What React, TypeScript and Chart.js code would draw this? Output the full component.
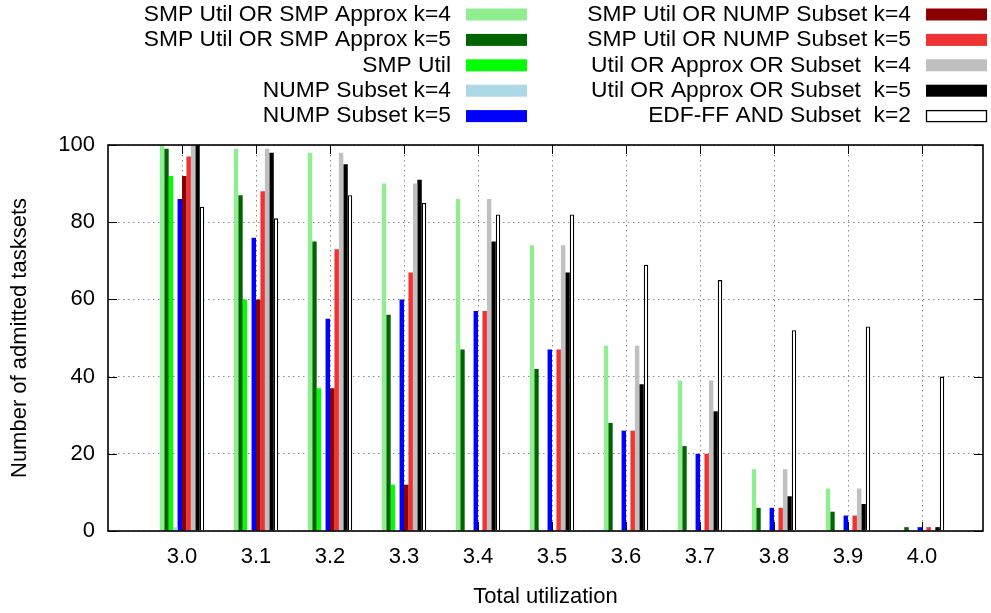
import { useEffect, useRef } from "react";
import { Chart, registerables } from "chart.js";

Chart.register(...registerables);

// ---- data ----
const categories = [3.0, 3.1, 3.2, 3.3, 3.4, 3.5, 3.6, 3.7, 3.8, 3.9, 4.0];

const seriesLabels = [
  "SMP Util OR SMP Approx k=4",
  "SMP Util OR SMP Approx k=5",
  "SMP Util",
  "NUMP Subset k=4",
  "NUMP Subset k=5",
  "SMP Util OR NUMP Subset k=4",
  "SMP Util OR NUMP Subset k=5",
  "Util OR Approx OR Subset  k=4",
  "Util OR Approx OR Subset  k=5",
  "EDF-FF AND Subset  k=2",
];

const smpApproxK4 = [100, 99, 98, 90, 86, 74, 48, 39, 16, 11, 0];
const smpApproxK5 = [99, 87, 75, 56, 47, 42, 28, 22, 6, 5, 1];
const smpUtil = [92, 60, 37, 12, 0, 0, 0, 0, 0, 0, 0];
const numpK4 = [1, 0, 0, 0, 0, 0, 0, 0, 0, 0, 0];
const numpK5 = [86, 76, 55, 60, 57, 47, 26, 20, 6, 4, 1];
const smpNumpK4 = [92, 60, 37, 12, 0, 0, 0, 0, 0, 0, 0];
const smpNumpK5 = [97, 88, 73, 67, 57, 47, 26, 20, 6, 4, 1];
const allK4 = [100, 99, 98, 90, 86, 74, 48, 39, 16, 11, 0];
const allK5 = [100, 98, 95, 91, 75, 67, 38, 31, 9, 7, 1];
const edfK2 = [84, 81, 87, 85, 82, 82, 69, 65, 52, 53, 40];

const yTicks = [0, 20, 40, 60, 80, 100];

const seriesValues = [
  smpApproxK4,
  smpApproxK5,
  smpUtil,
  numpK4,
  numpK5,
  smpNumpK4,
  smpNumpK5,
  allK4,
  allK5,
  edfK2,
];

const seriesColors = [
  "#90ee90",
  "#006400",
  "#00ff00",
  "#add8e6",
  "#0000ff",
  "#8b0000",
  "#f03232",
  "#c0c0c0",
  "#000000",
  "#ffffff",
];

const FONT = '"Liberation Sans", Arial, sans-serif';

const framePlugin = {
  id: "gpFrame",
  beforeDatasetsDraw(chart: any) {
    const { ctx, chartArea, scales } = chart;
    const { left, right, top, bottom } = chartArea;
    const x = scales.x;
    const y = scales.y;
    ctx.save();
    ctx.strokeStyle = "#000";
    ctx.lineWidth = 1;
    ctx.beginPath();
    for (const t of y.ticks) {
      const py = Math.round(y.getPixelForValue(t.value)) + 0.5;
      ctx.moveTo(left, py);
      ctx.lineTo(left + 9, py);
      ctx.moveTo(right, py);
      ctx.lineTo(right - 9, py);
    }
    for (const t of x.ticks) {
      const px = Math.round(x.getPixelForValue(t.value)) + 0.5;
      ctx.moveTo(px, bottom);
      ctx.lineTo(px, bottom - 9);
      ctx.moveTo(px, top);
      ctx.lineTo(px, top + 9);
    }
    ctx.stroke();
    ctx.restore();
  },
  afterDatasetsDraw(chart: any) {
    const { ctx, chartArea } = chart;
    const { left, right, top, bottom } = chartArea;
    ctx.save();
    ctx.strokeStyle = "#000";
    ctx.lineWidth = 1.6;
    ctx.strokeRect(left, top, right - left, bottom - top);
    ctx.restore();
  },
};

const legendPlugin = {
  id: "gpLegend",
  afterDraw(chart: any) {
    const { ctx } = chart;
    const ds = chart.data.datasets;
    ctx.save();
    ctx.font = `22.8px ${FONT}`;
    ctx.textAlign = "right";
    ctx.textBaseline = "middle";
    ds.forEach((d: any, i: number) => {
      const col = Math.floor(i / 5);
      const row = i % 5;
      const textRight = col === 0 ? 451 : 911;
      const swLeft = col === 0 ? 466 : 926;
      const cy = 14.5 + row * 25.4;
      ctx.fillStyle = "#000";
      ctx.fillText(d.label, textRight, cy);
      ctx.fillStyle = d.backgroundColor;
      ctx.fillRect(swLeft, cy - 6, 61, 12);
      if (d.borderWidth > 0) {
        ctx.strokeStyle = d.borderColor;
        ctx.lineWidth = 1.3;
        ctx.strokeRect(swLeft + 0.5, cy - 5.5, 60, 11);
      }
    });
    ctx.restore();
  },
};

export default function App() {
  const ref = useRef<HTMLCanvasElement | null>(null);

  useEffect(() => {
    document.body.style.margin = "0";
    const canvas = ref.current;
    if (!canvas) return;

    const datasets = seriesLabels.map((label, si) => {
      const isWhite = si === seriesLabels.length - 1;
      return {
        label,
        data: categories.map((c, i) => ({ x: c, y: seriesValues[si][i] })),
        backgroundColor: seriesColors[si],
        borderColor: isWhite ? "#000000" : seriesColors[si],
        borderWidth: isWhite ? 1.3 : 0,
        categoryPercentage: 0.6,
        barPercentage: 1.0,
      };
    });

    const chart = new Chart(canvas, {
      type: "bar",
      data: { datasets },
      plugins: [framePlugin, legendPlugin],
      options: {
        animation: false,
        responsive: false,
        devicePixelRatio: 1,
        layout: { padding: { top: 145, right: 8, bottom: 0, left: 0 } },
        plugins: {
          legend: { display: false },
          tooltip: { enabled: false },
        },
        scales: {
          x: {
            type: "linear",
            min: 2.9,
            max: 4.0824,
            offset: false,
            afterBuildTicks: (scale: any) => {
              scale.ticks = categories.map((v) => ({ value: v }));
            },
            afterFit: (scale: any) => {
              scale.height = 82;
            },
            grid: {
              offset: false,
              drawTicks: false,
              color: "#8a8a8a",
              lineWidth: 1,
            },
            border: { display: false, dash: [1.5, 3.5] },
            ticks: {
              autoSkip: false,
              maxRotation: 0,
              padding: 13,
              color: "#000",
              font: { family: FONT, size: 22 },
              callback: (v: any) => Number(v).toFixed(1),
            },
            title: {
              display: true,
              text: "Total utilization",
              color: "#000",
              font: { family: FONT, size: 22 },
              padding: { top: 0, bottom: 3 },
            },
          },
          y: {
            type: "linear",
            min: 0,
            max: 100,
            afterBuildTicks: (scale: any) => {
              scale.ticks = yTicks.map((v) => ({ value: v }));
            },
            afterFit: (scale: any) => {
              scale.width = 108;
            },
            grid: {
              drawTicks: false,
              color: "#8a8a8a",
              lineWidth: 1,
            },
            border: { display: false, dash: [1.5, 3.5] },
            ticks: {
              padding: 13,
              color: "#000",
              font: { family: FONT, size: 22 },
            },
            title: {
              display: true,
              text: "Number of admitted tasksets",
              color: "#000",
              font: { family: FONT, size: 22 },
              padding: { top: 7, bottom: 0 },
            },
          },
        },
      } as any,
    });

    return () => chart.destroy();
  }, []);

  return (
    <div style={{ position: "absolute", left: 0, top: 0, width: 991, height: 613, background: "#fff" }}>
      <canvas ref={ref} width={991} height={613} style={{ display: "block" }} />
    </div>
  );
}
